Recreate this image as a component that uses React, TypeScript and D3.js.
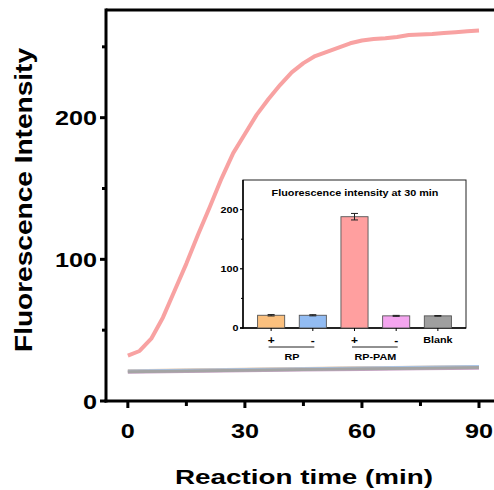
import React from "react";
import * as d3 from "d3";

const times = [0, 3, 6, 9, 12, 15, 18, 21, 24, 27, 30, 33, 36, 39, 42, 45, 48, 51, 54, 57, 60, 63, 66, 69, 72, 75, 78, 81, 84, 87, 90];
const rpPamPlus = [32, 35.3, 44, 59, 78, 97, 117.5, 137, 157, 175, 188.5, 202, 213, 223, 232, 238.5, 243.5, 246.5, 249.5, 252.5, 254.5, 255.5, 256, 257, 258.3, 258.7, 259, 259.7, 260.3, 261, 261.5];

const flatTimes = [0, 15, 30, 45, 60, 75, 90];
const rpPlus = [21.4, 21.9, 22.4, 22.9, 23.4, 23.9, 24.3];
const rpMinus = [21.2, 21.7, 22.2, 22.8, 23.3, 23.8, 24.4];
const rpPamMinus = [20.3, 20.8, 21.3, 21.8, 22.3, 22.8, 23.2];
const blank = [20.7, 21.2, 21.7, 22.2, 22.7, 23.1, 23.6];

const xMajor = [0, 30, 60, 90];
const xMinor = [15, 45, 75];
const yMajor = [0, 100, 200];
const yMinor = [50, 150, 250];

const barCats = ["RP+", "RP-", "RPPAM+", "RPPAM-", "Blank"];
const barLabels = ["+", "-", "+", "-", "Blank"];
const barValues = [21.5, 21.5, 188, 20.5, 20.5];
const barErrors = [1.2, 1.0, 5.5, 0.8, 0.6];
const barColors = ["#fbc07e", "#92bcf3", "#ff9f9f", "#f4a5ef", "#9f9f9f"];
const insetYMajor = [0, 100, 200];
const insetYMinor = [50, 150];
const groups = [
  { label: "RP", from: "RP+", to: "RP-" },
  { label: "RP-PAM", from: "RPPAM+", to: "RPPAM-" },
];

const FONT = "'Liberation Sans', Arial, Helvetica, sans-serif";
const SX = 1.2;

function T({ x, y, size, anchor = "middle", children, rotate = 0, len }: any) {
  return (
    <text
      transform={`translate(${x},${y}) rotate(${rotate}) scale(${len ? 1 : SX},1)`}
      fontSize={size}
      fontWeight="bold"
      textAnchor={anchor}
      fontFamily={FONT}
      fill="#000"
      textLength={len}
      lengthAdjust={len ? "spacingAndGlyphs" : undefined}
    >
      {children}
    </text>
  );
}

export default function App() {
  const x = d3.scaleLinear().domain([-5.6, 95]).range([106, 498.5]);
  const y = d3.scaleLinear().domain([0, 276]).range([401, 10]);
  const line = d3
    .line<number>()
    .x((_, i) => x(times[i]))
    .y((d) => y(d));
  const flatLine = d3
    .line<number>()
    .x((_, i) => x(flatTimes[i]))
    .y((d) => y(d));

  const ix = d3.scaleBand().domain(barCats).range([243, 466]).paddingInner(0.35).paddingOuter(0.35);
  const iy = d3.scaleLinear().domain([0, 250]).range([328, 180]);
  const bw = ix.bandwidth();
  const cx = (c: string) => (ix(c) as number) + bw / 2;

  const x0 = x.range()[0];
  const y0 = y.range()[0];

  return (
    <svg
      width={494}
      height={490}
      style={{ position: "absolute", left: 0, top: 0, background: "#fff" }}
    >
      <rect x={0} y={0} width={494} height={490} fill="#fff" />
      {/* flat lines */}
      <path d={flatLine(rpPlus) as string} fill="none" stroke="#e9b98a" strokeWidth={3} />
      <path d={flatLine(rpMinus) as string} fill="none" stroke="#a9c6ea" strokeWidth={3} />
      <path d={flatLine(rpPamMinus) as string} fill="none" stroke="#c9a3c6" strokeWidth={3} />
      <path d={flatLine(blank) as string} fill="none" stroke="#a4a4a4" strokeWidth={3} />
      {/* main curve */}
      <path d={line(rpPamPlus) as string} fill="none" stroke="#f8a2a2" strokeWidth={4} strokeLinejoin="round" />

      {/* frame */}
      <line x1={x0} x2={x.range()[1]} y1={y.range()[1]} y2={y.range()[1]} stroke="#000" strokeWidth={3} />
      <line x1={x.range()[1]} x2={x.range()[1]} y1={y.range()[1]} y2={y0} stroke="#000" strokeWidth={3} />
      <line x1={x0} x2={x0} y1={y.range()[1] - 1.5} y2={y0 + 1.5} stroke="#000" strokeWidth={3} />
      <line x1={x0 - 1.5} x2={x.range()[1]} y1={y0} y2={y0} stroke="#000" strokeWidth={3} />

      {/* y ticks */}
      {yMajor.map((v) => (
        <g key={"ym" + v}>
          <line x1={x0 - 6} x2={x0} y1={y(v)} y2={y(v)} stroke="#000" strokeWidth={3} />
          <T x={x0 - 9} y={y(v) + 7.5} size={21} anchor="end">{v}</T>
        </g>
      ))}
      {yMinor.map((v) => (
        <line key={"yn" + v} x1={x0 - 4} x2={x0} y1={y(v)} y2={y(v)} stroke="#000" strokeWidth={3} />
      ))}
      {/* x ticks */}
      {xMajor.map((v) => (
        <g key={"xm" + v}>
          <line x1={x(v)} x2={x(v)} y1={y0} y2={y0 + 7} stroke="#000" strokeWidth={3} />
          <T x={x(v)} y={438} size={21}>{v}</T>
        </g>
      ))}
      {xMinor.map((v) => (
        <line key={"xn" + v} x1={x(v)} x2={x(v)} y1={y0} y2={y0 + 5} stroke="#000" strokeWidth={3} />
      ))}

      <T x={304} y={484} size={21} len={258}>Reaction time (min)</T>
      <T x={32} y={200} size={23} rotate={-90} len={304}>Fluorescence Intensity</T>

      {/* inset */}
      <rect x={243} y={180} width={223} height={148} fill="#fff" stroke="#222" strokeWidth={1} />
      <line x1={243} x2={243} y1={180} y2={328.7} stroke="#000" strokeWidth={1.5} />
      <line x1={240} x2={466} y1={328} y2={328} stroke="#000" strokeWidth={1.5} />
      {insetYMajor.map((v) => (
        <g key={"iy" + v}>
          <line x1={240} x2={243} y1={iy(v)} y2={iy(v)} stroke="#000" strokeWidth={1.2} />
          <T x={238.5} y={iy(v) + 3.3} size={9} anchor="end">{v}</T>
        </g>
      ))}
      {insetYMinor.map((v) => (
        <line key={"iyn" + v} x1={241} x2={243} y1={iy(v)} y2={iy(v)} stroke="#000" strokeWidth={1} />
      ))}
      <T x={355} y={196} size={9}>Fluorescence intensity at 30 min</T>

      {barCats.map((c, i) => (
        <g key={c}>
          <rect
            x={ix(c)}
            y={iy(barValues[i])}
            width={bw}
            height={iy(0) - iy(barValues[i])}
            fill={barColors[i]}
            stroke="#555"
            strokeWidth={0.9}
          />
          <line x1={cx(c)} x2={cx(c)} y1={iy(barValues[i] + barErrors[i])} y2={iy(barValues[i] - barErrors[i])} stroke="#222" strokeWidth={1} />
          <line x1={cx(c) - 3.5} x2={cx(c) + 3.5} y1={iy(barValues[i] + barErrors[i])} y2={iy(barValues[i] + barErrors[i])} stroke="#222" strokeWidth={1} />
          <line x1={cx(c) - 3.5} x2={cx(c) + 3.5} y1={iy(barValues[i] - barErrors[i])} y2={iy(barValues[i] - barErrors[i])} stroke="#222" strokeWidth={1} />
          <line x1={cx(c)} x2={cx(c)} y1={328} y2={331} stroke="#000" strokeWidth={1} />
          <T x={cx(c)} y={barLabels[i] === "Blank" ? 342.5 : 343.5} size={barLabels[i] === "Blank" ? 9 : 10}>{barLabels[i]}</T>
        </g>
      ))}
      {groups.map((g) => (
        <g key={g.label}>
          <line x1={cx(g.from) - 2.5} x2={cx(g.to) + 1.5} y1={347} y2={347} stroke="#222" strokeWidth={1} />
          <T x={(cx(g.from) + cx(g.to)) / 2} y={360} size={9}>{g.label}</T>
        </g>
      ))}
    </svg>
  );
}
